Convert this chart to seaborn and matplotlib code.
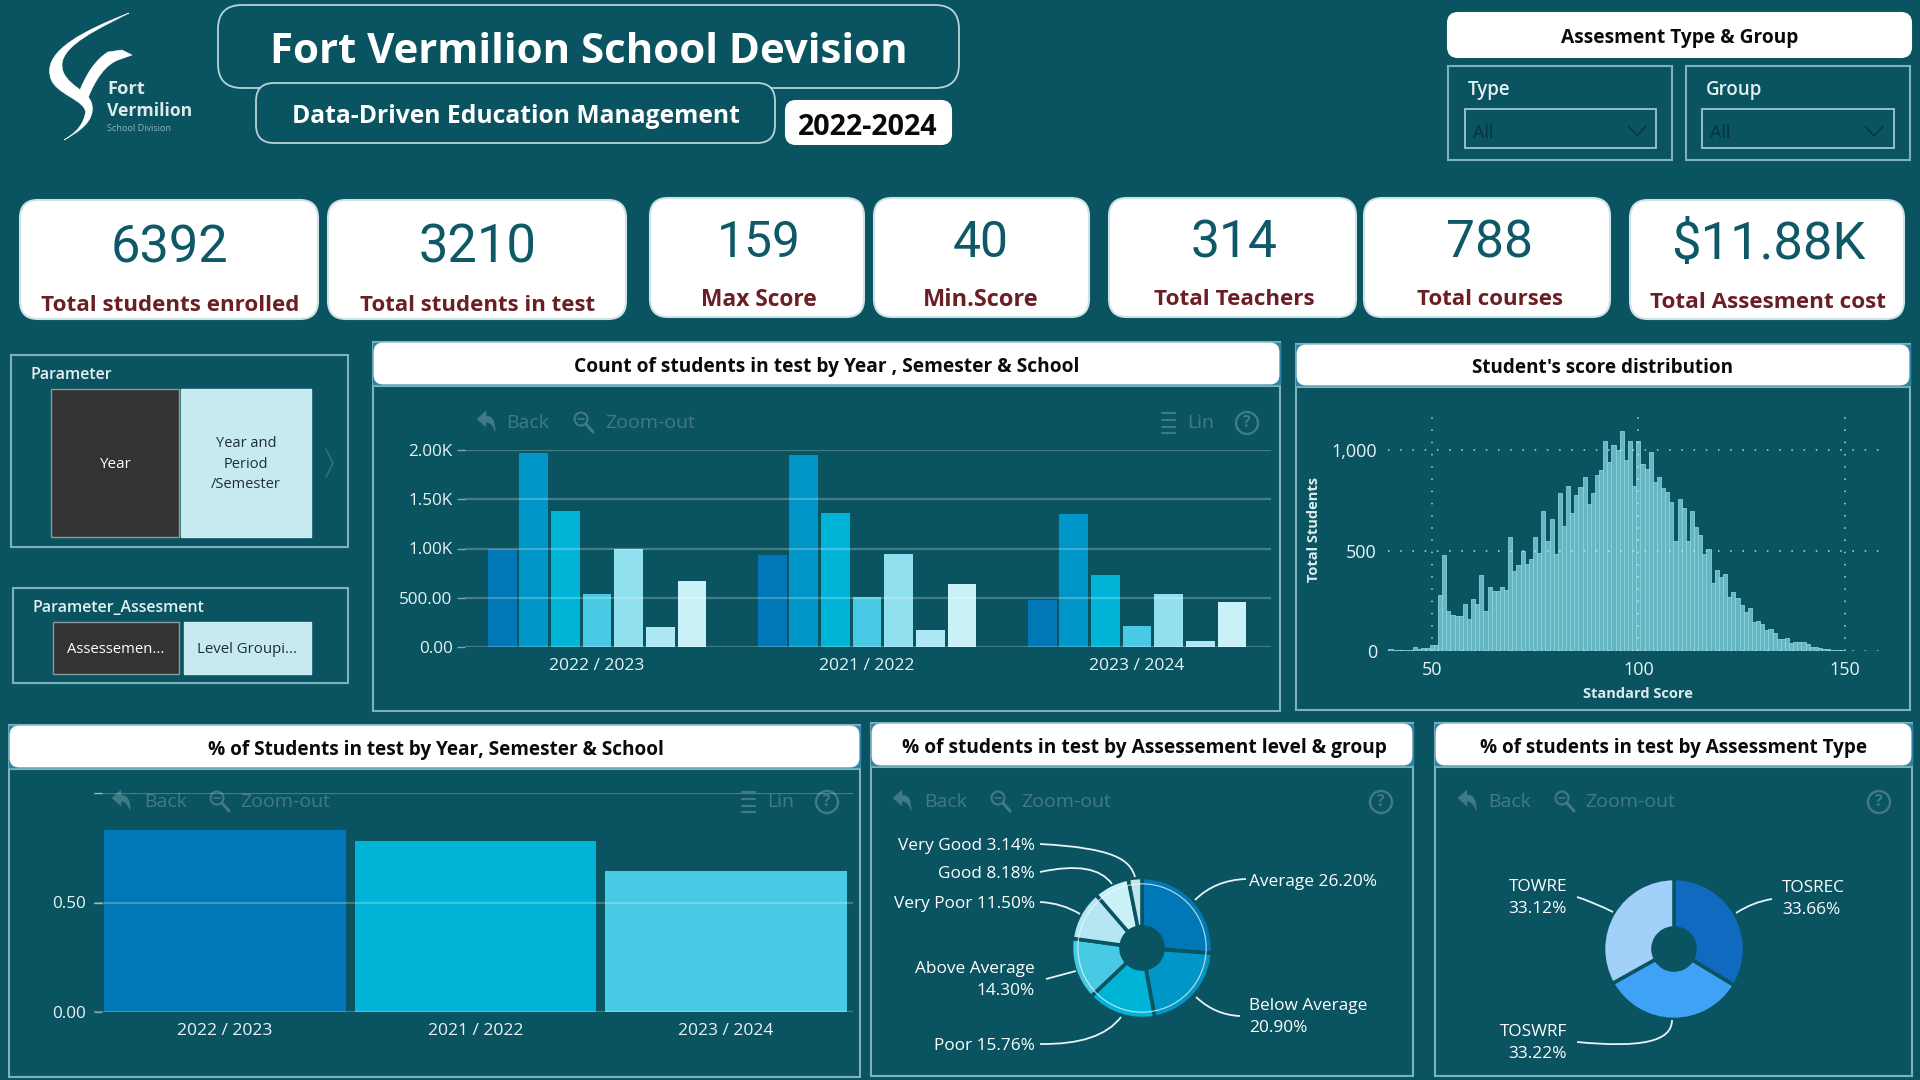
import matplotlib
matplotlib.use("Agg")
import matplotlib.pyplot as plt
import matplotlib.patches as mp
from matplotlib.path import Path
import pandas as pd
import seaborn as sns

# ---------- data ----------
years = ["2022 / 2023", "2021 / 2022", "2023 / 2024"]
schools = ["School 1", "School 2", "School 3", "School 4", "School 5", "School 6", "School 7"]
count_2022 = [1000, 1966, 1380, 542, 990, 203, 671]
count_2021 = [932, 1949, 1356, 512, 942, 176, 644]
count_2023 = [478, 1353, 729, 217, 542, 61, 461]
pct_students = [0.831, 0.783, 0.644]
score_start = 40
score_counts = [8, 6, 4, 4, 3, 5, 20, 12, 14, 16, 28, 30,
                280, 477, 200, 180, 175, 175, 235, 160, 260, 235, 378, 200, 320, 300, 300, 320, 305,
                565, 398, 428, 500, 433, 460, 565, 490, 695, 545, 655, 485, 788, 620, 822, 685, 775,
                818, 865, 730, 785, 875, 900, 1045, 940, 1025, 1000, 1095, 950, 1045, 822, 1045, 930,
                908, 988, 842, 865, 810, 792, 743, 547, 755, 713, 545, 698, 618, 577, 481, 507, 340,
                403, 366, 383, 270, 292, 262, 229, 196, 212, 146, 149, 133, 104, 109, 91, 58, 60, 66,
                38, 45, 45, 43, 35, 22, 20, 14, 12, 10, 7, 4, 3, 2, 2, 2, 1, 1, 1, 1, 1, 1, 1]
level_names = ["Average", "Below Average", "Poor", "Above Average", "Very Poor", "Good", "Very Good"]
level_pct = [26.20, 20.90, 15.76, 14.30, 11.50, 8.18, 3.14]
type_names = ["TOSREC", "TOSWRF", "TOWRE"]
type_pct = [33.66, 33.22, 33.12]
kpi_values = ["6392", "3210", "159", "40", "314", "788", "$11.88K"]
kpi_labels = ["Total students enrolled", "Total students in test", "Max Score", "Min.Score",
              "Total Teachers", "Total courses", "Total Assesment cost"]

# ---------- style ----------
BG = "#0A5461"
EDGE = "#7DB1BC"
HEAD = "#B7D3D9"
FAINT = "#427985"
WHITE = "#FFFFFF"
MAROON = "#6B1F24"
TEAL = "#0E5868"
BLUES = ["#0077B6", "#0096C7", "#00B4D8", "#48CAE4", "#90E0EF", "#ADE8F4", "#CAF0F8"]
LEVEL_COLORS = ["#0077B6", "#0096C7", "#00B4D8", "#48CAE4", "#B5E6F1", "#CAF0F8", "#BFE6EC"]
TYPE_COLORS = ["#106ABF", "#3FA2F7", "#A3D0F9"]
sns.set_theme(style="white", rc={"figure.facecolor": BG, "axes.facecolor": "none", "savefig.facecolor": BG})
plt.rcParams["font.family"] = ["Open Sans", "DejaVu Sans"]

W, H = 1920, 1080
fig = plt.figure(figsize=(W / 100, H / 100), dpi=100)
base = fig.add_axes([0, 0, 1, 1], zorder=0)
base.set_xlim(0, W)
base.set_ylim(H, 0)
base.axis("off")
top = fig.add_axes([0, 0, 1, 1], zorder=5)
top.set_xlim(0, W)
top.set_ylim(H, 0)
top.axis("off")
top.patch.set_alpha(0)
rend = fig.canvas.get_renderer()


def txt(x, y, s, size=12, color=WHITE, w=None, ha="center", va="center", weight="normal",
        family=None, ax=None, **kw):
    ax = ax or base
    t = ax.text(x, y, s, fontsize=size, color=color, ha=ha, va=va, fontweight=weight, **kw)
    if family:
        t.set_family(family)
    if w:
        t.set_fontsize(size * w / t.get_window_extent(rend).width)
    if "\n" not in s and "rotation" not in kw:
        t.set_y(y + 0.14 * t.get_fontsize())
    return t


def rbox(x0, y0, x1, y1, r=10, fc="none", ec=EDGE, lw=1.5, z=1):
    p = mp.FancyBboxPatch((x0 + r, y0 + r), x1 - x0 - 2 * r, y1 - y0 - 2 * r,
                          boxstyle=f"round,pad={r},rounding_size={r}", fc=fc, ec=ec, lw=lw, zorder=z)
    base.add_patch(p)


def rect(x0, y0, x1, y1, fc="none", ec=EDGE, lw=1.5, z=1):
    base.add_patch(mp.Rectangle((x0, y0), x1 - x0, y1 - y0, fc=fc, ec=ec, lw=lw, zorder=z))


def axpx(x0, y0, x1, y1, z=2):
    a = fig.add_axes([x0 / W, 1 - y1 / H, (x1 - x0) / W, (y1 - y0) / H], zorder=z)
    a.patch.set_alpha(0)
    return a


def panel(x0, y0, x1, y1, ty0, ty1, title, tx, tw):
    rect(x0, ty0 - 1, x1, y1)
    base.plot([x0, x1], [ty1 + 2, ty1 + 2], color=EDGE, lw=1.5, zorder=1)
    rect(x0, ty0, x1, ty1, fc="#2F86A8", ec="#2F86A8", lw=1, z=1.5)
    rbox(x0 + 1, ty0, x1 - 1, ty1, r=9, fc=WHITE, ec=WHITE, lw=0.6, z=2)
    txt(tx, (ty0 + ty1) / 2 + 1.5, title, size=13, color="#0A0A0A", w=tw, weight="bold", zorder=3)


def curve(points, ax=None, lw=1.3):
    ax = ax or top
    if len(points) == 2:
        codes = [Path.MOVETO, Path.LINETO]
    elif len(points) == 3:
        codes = [Path.MOVETO, Path.CURVE3, Path.CURVE3]
    else:
        codes = [Path.MOVETO, Path.CURVE4, Path.CURVE4, Path.CURVE4]
    ax.add_patch(mp.PathPatch(Path(points, codes), fc="none", ec="#E8F4F6", lw=lw))


def toolbar(xa, xb, xm, xz, xq, y, xl=None, xt=None):
    verts = [(-10, -2), (-1, -10), (-1, -5), (9, -5), (8, 11), (6, 2), (-1, 1), (-1, 6), (-10, -2)]
    verts = [(xa + vx, y + vy) for vx, vy in verts]
    codes = [Path.MOVETO, Path.LINETO, Path.LINETO, Path.CURVE3, Path.CURVE3, Path.CURVE3, Path.CURVE3,
             Path.LINETO, Path.CLOSEPOLY]
    base.add_patch(mp.PathPatch(Path(verts, codes), fc=FAINT, ec=FAINT, lw=0.3))
    txt(xb, y, "Back", size=14, color=FAINT, ha="left")
    base.add_patch(mp.Circle((xm - 1, y - 2), 6.5, fc="none", ec=FAINT, lw=1.5))
    base.plot([xm + 4, xm + 11], [y + 3, y + 11], color=FAINT, lw=2.2)
    base.plot([xm - 4, xm + 2], [y - 2, y - 2], color=FAINT, lw=1.2)
    txt(xz, y, "Zoom-out", size=14, color=FAINT, ha="left")
    base.add_patch(mp.Circle((xq, y + 2), 11, fc="none", ec=FAINT, lw=1.7))
    txt(xq, y, "?", size=11.5, color=FAINT, weight="bold")
    if xl:
        for d in (-8, -1, 6, 12):
            base.plot([xl - 5, xl + 8], [y + d, y + d], color=FAINT, lw=1.5)
        txt(xt, y, "Lin", size=14, color=FAINT, ha="left")


# ---------- logo ----------
swoosh = Path([(129, 13), (85, 30), (45, 50), (50, 75), (52, 95), (90, 100), (85, 115),
               (82, 128), (72, 135), (64, 140), (78, 132), (95, 122), (92, 105),
               (90, 90), (62, 85), (62, 65), (62, 45), (100, 28), (129, 13)],
              [Path.MOVETO] + [Path.CURVE4] * 18)
base.add_patch(mp.PathPatch(swoosh, fc=WHITE, ec=WHITE, lw=0.4))
neck = Path([(80, 90), (86, 75), (95, 60), (108, 52), (122, 50), (132, 55), (118, 60),
             (105, 65), (95, 80), (88, 98), (80, 90)],
            [Path.MOVETO] + [Path.CURVE4] * 3 + [Path.LINETO] * 3 + [Path.CURVE4] * 3 + [Path.LINETO])
base.add_patch(mp.PathPatch(neck, fc=WHITE, ec=WHITE, lw=0.4))
txt(107, 87, "Fort", size=14, ha="left", w=38, weight="bold", color="#DDE9EC")
txt(107, 109, "Vermilion", size=14, ha="left", w=85, weight="bold", color="#DDE9EC")
txt(107, 128, "School Division", size=7, ha="left", w=65, color="#8FB3BC")

# ---------- header ----------
rbox(218, 5, 959, 88, r=24, lw=1.3, ec=HEAD)
rbox(256, 83, 775, 143, r=18, fc=BG, lw=1.3, ec=HEAD, z=2)
txt(589, 48, "Fort Vermilion School Devision", size=30, w=639, weight="bold", zorder=3)
txt(516, 114.5, "Data-Driven Education Management", size=18, w=448, weight="bold", zorder=3)
rbox(786, 101, 951, 144, r=10, fc=WHITE, ec=WHITE, z=2)
txt(868, 124.5, "2022-2024", size=18, w=140, color="#0A0A0A", weight="bold", zorder=3)

# ---------- filters ----------
rbox(1448, 13, 1911, 57, r=10, fc=WHITE, ec=WHITE, z=2)
txt(1680, 36, "Assesment Type & Group", size=13, w=236, color="#0A0A0A", weight="bold", zorder=3)
for x0, x1, lx, dx0, dx1, ax_, cx, name in [(1448, 1672, 1468, 1465, 1656, 1473, 1637, "Type"),
                                            (1686, 1910, 1706, 1702, 1894, 1710, 1874, "Group")]:
    rect(x0, 66, x1, 160)
    txt(lx, 88, name, size=13.5, ha="left", weight="semibold", color="#E3F0F2")
    rect(dx0, 109, dx1, 148, lw=1.3, ec="#9CC8D0")
    txt(ax_, 131, "All", size=13, ha="left", color="#08323C")
    base.plot([cx - 9, cx, cx + 9], [126, 136, 126], color="#08323C", lw=1)

# ---------- KPI cards ----------
cards = [(20, 200, 318, 319, 170, 243, 303.5), (328, 200, 626, 319, 478, 243, 303.5),
         (650, 198, 864, 317, 759, 238, 297.5), (874, 198, 1089, 317, 981, 238, 297.5),
         (1109, 198, 1356, 317, 1234, 238, 297.5), (1364, 198, 1610, 317, 1490, 238, 297.5),
         (1630, 200, 1904, 319, 1768, 240, 300.5)]
vwidth = [118, 118, 84, 56, 87, 87, 194]
lwidth = [258, 236, 116, 116, 160, 146, 236]
for c, v, l, vw, lw_ in zip(cards, kpi_values, kpi_labels, vwidth, lwidth):
    rbox(c[0], c[1], c[2], c[3], r=18, fc=WHITE, ec="#CFE3E7", lw=1.5, z=2)
    txt(c[4], c[5], v, size=38, color=TEAL, family="Roboto", zorder=3, w=vw)
    txt(c[4], c[6], l, size=15, color=MAROON, w=lw_, weight="bold", zorder=3)

# ---------- parameter slicers ----------
rect(11, 355, 348, 547)
txt(31, 373, "Parameter", size=11.5, ha="left", weight="semibold", color="#E3F0F2")
rect(51, 389, 179, 537, fc="#333333", ec="#8A9A9E", lw=1, z=2)
rect(181, 389, 311, 537, fc="#C6EAF0", ec="#C6EAF0", lw=1, z=2)
txt(115, 463, "Year", size=11, zorder=3)
txt(246, 464, "Year and\nPeriod\n/Semester", size=10.5, color="#1D2F33", zorder=3, linespacing=1.5)
base.plot([326, 333, 326], [449, 463, 477], color="#2F7280", lw=1.2)
rect(13, 588, 348, 683)
txt(33, 606, "Parameter_Assesment", size=11.5, ha="left", weight="semibold", color="#E3F0F2")
rect(53, 622, 179, 674, fc="#333333", ec="#8A9A9E", lw=1, z=2)
rect(184, 622, 311, 674, fc="#C6EAF0", ec="#C6EAF0", lw=1, z=2)
txt(116, 648, "Assessemen...", size=11, w=97, zorder=3)
txt(247, 648, "Level Groupi...", size=11, w=100, color="#1D2F33", zorder=3)

# ---------- panels ----------
panel(373, 340, 1280, 711, 343, 384, "Count of students in test by Year , Semester & School", 827, 500)
panel(1296, 342, 1910, 710, 345, 385, "Student's score distribution", 1603, 258)
panel(9, 724, 860, 1077, 726, 767, "% of Students in test by Year, Semester & School", 436, 454)
panel(871, 722, 1413, 1076, 724, 765, "% of students in test by Assessement level & group", 1144, 480)
panel(1435, 722, 1912, 1076, 724, 765, "% of students in test by Assessment Type", 1674, 385)

toolbar(487, 506, 582, 605, 1247, 421, xl=1167, xt=1187)
toolbar(122, 144, 218, 240, 827, 800, xl=747, xt=767)
toolbar(903, 924, 999, 1021, 1381, 800)
toolbar(1468, 1488, 1563, 1585, 1879, 800)


def style_bar_axis(a, tick_dir="out", tick_pad=3):
    sns.despine(ax=a, left=True, bottom=True)
    a.set_xlabel("")
    a.set_ylabel("")
    a.set_axisbelow(False)
    a.grid(False)
    for yv in a.get_yticks():
        a.axhline(yv, color="#FFFFFF", alpha=0.24, lw=1.6, zorder=6)
    a.tick_params(axis="y", length=6, width=1, color="#7DA7B2", labelcolor="#E8F3F5", labelsize=12.3,
                  pad=tick_pad, left=True, direction=tick_dir)
    a.tick_params(axis="x", length=0, labelcolor="#E8F3F5", labelsize=12.6, pad=8)


# ---------- chart 1: count by year & school ----------
df_count = pd.DataFrame({
    "year": [y for y in years for _ in schools],
    "school": schools * 3,
    "students": count_2022 + count_2021 + count_2023,
})
a1 = axpx(465, 450, 1271, 647)
sns.barplot(data=df_count, x="year", y="students", hue="school", order=years, hue_order=schools,
            palette=BLUES, width=0.82, gap=0.09, saturation=1, legend=False, linewidth=0, edgecolor="none", ax=a1)
a1.set_xlim(-0.489, 2.496)
a1.set_ylim(0, 2000)
a1.set_yticks([0, 500, 1000, 1500, 2000], ["0.00", "500.00", "1.00K", "1.50K", "2.00K"])
style_bar_axis(a1)

# ---------- chart 2: score distribution ----------
df_score = pd.DataFrame({"score": [score_start + i for i in range(len(score_counts))], "students": score_counts})
a2 = axpx(1388, 407, 1887, 651)
sns.barplot(data=df_score, x="score", y="students", native_scale=True, width=1.0, color="#66B5C3",
            saturation=1, edgecolor="#8BD7E1", linewidth=0.55, ax=a2)
a2.set_xlim(39.4, 160.2)
a2.set_ylim(0, 1214)
a2.set_xticks([50, 100, 150], ["50", "100", "150"])
a2.set_yticks([0, 500, 1000], ["0", "500", "1,000"])
sns.despine(ax=a2, left=True, bottom=True)
a2.set_xlabel("")
a2.set_ylabel("")
a2.grid(True, color="#D7ECEF", lw=1.1, linestyle=(0, (1, 7)), alpha=0.85)
a2.set_axisbelow(False)
a2.tick_params(axis="both", length=0, labelcolor="#E8F3F5", labelsize=13)
a2.tick_params(axis="y", pad=8)
a2.tick_params(axis="x", pad=7)
txt(1638, 693, "Standard Score", size=10.5, weight="bold", color="#DCECEF")
txt(1314, 529, "Total Students", size=10.5, weight="bold", color="#DCECEF", rotation=90)

# ---------- chart 3: pct by year ----------
df_pct = pd.DataFrame({"year": years, "pct": pct_students})
a3 = axpx(94, 793, 853, 1012)
sns.barplot(data=df_pct, x="year", y="pct", hue="year", order=years, hue_order=years,
            palette=[BLUES[0], BLUES[2], BLUES[3]], width=0.966, saturation=1, legend=False,
            linewidth=0, edgecolor="none", ax=a3)
a3.set_xlim(-0.523, 2.507)
a3.set_ylim(0, 1)
a3.set_yticks([0, 0.5, 1.0], ["0.00", "0.50", ""])
style_bar_axis(a3, tick_dir="in", tick_pad=6)


# ---------- pies ----------
def donut(cx, cy, values, colors, r=70.5, hole=21):
    a = axpx(cx - r, cy - r, cx + r, cy + r)
    a.pie(values, colors=colors, startangle=90, counterclock=False, radius=1,
          wedgeprops={"width": 1 - hole / r, "edgecolor": BG, "linewidth": 2.6})
    a.set_xlim(-1, 1)
    a.set_ylim(-1, 1)
    a.set_aspect("auto")
    return a


a4 = donut(1142, 948, level_pct, LEVEL_COLORS)
a4.add_patch(mp.Circle((0, 0), 0.91, fc="none", ec="#F2FAFB", lw=0.9, alpha=0.7))
donut(1674, 949, type_pct, TYPE_COLORS)

lab = lambda i: f"{level_names[i]} {level_pct[i]:.2f}%"
lab2 = lambda i: f"{level_names[i]}\n{level_pct[i]:.2f}%"
tp = lambda i: f"{type_names[i]}\n{type_pct[i]:.2f}%"
L = 12.4
txt(1249, 880, lab(0), size=L, ha="left", ax=top)
txt(1249, 1017, lab2(1), size=L, ha="left", ax=top, linespacing=1.45)
txt(1035, 1044, lab(2), size=L, ha="right", ax=top)
txt(1035, 980, lab2(3), size=L, ha="right", ax=top, linespacing=1.45, multialignment="right")
txt(1035, 902, lab(4), size=L, ha="right", ax=top)
txt(1035, 872, lab(5), size=L, ha="right", ax=top)
txt(1035, 844, lab(6), size=L, ha="right", ax=top)
curve([(1040, 844), (1115, 848), (1130, 860), (1135, 877)])
curve([(1040, 872), (1095, 860), (1112, 884)])
curve([(1040, 902), (1062, 903), (1080, 914)])
curve([(1046, 979), (1076, 971)])
curve([(1040, 1044), (1100, 1045), (1121, 1017)])
curve([(1246, 879), (1215, 880), (1195, 900)])
curve([(1240, 1016), (1215, 1015), (1196, 997)])

txt(1782, 899, tp(0), size=L, ha="left", ax=top, linespacing=1.45)
txt(1567, 1043, tp(1), size=L, ha="right", ax=top, linespacing=1.45, multialignment="right")
txt(1567, 898, tp(2), size=L, ha="right", ax=top, linespacing=1.45, multialignment="right")
curve([(1772, 899), (1753, 902), (1736, 913)])
curve([(1577, 897), (1593, 902), (1613, 912)])
curve([(1577, 1042), (1640, 1048), (1672, 1042), (1672, 1020)])

fig.savefig("out.png", dpi=100, facecolor=BG)
